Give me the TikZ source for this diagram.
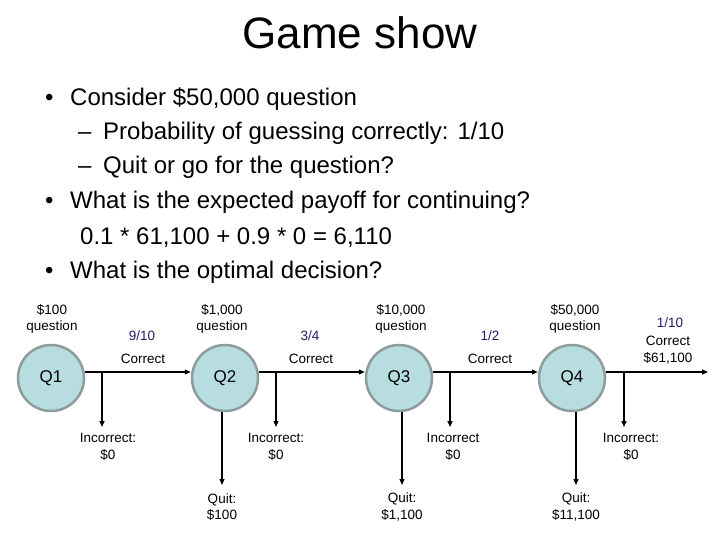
\documentclass[tikz,border=0pt]{standalone}
\usepackage{fontspec}
\setmainfont{Liberation Sans}
\usetikzlibrary{arrows.meta}
\definecolor{qfill}{HTML}{B8DDE0}
\definecolor{qdraw}{HTML}{8E9C9C}
\definecolor{probc}{HTML}{1F1F6E}
\tikzset{
  qnode/.style={circle,fill=qfill,draw=qdraw,line width=2.5pt,minimum size=66pt,inner sep=0pt,font=\fontsize{17}{19}\selectfont},
  lbl/.style={align=center,inner sep=0pt,font=\fontsize{13.5}{16.5}\selectfont},
  prob/.style={lbl,text=probc},
  conn/.style={line width=1.3pt,-{Triangle[length=6pt,width=5pt]}},
  bul/.style={anchor=base west,inner sep=0pt,font=\fontsize{24}{28}\selectfont},
}
\begin{document}
\begin{tikzpicture}[x=1pt,y=-1pt]
\useasboundingbox (0,0) rectangle (720,540);
\node[inner sep=0pt,font=\fontsize{44}{50}\selectfont] (title) at (360,33) {Game show};
% bullets
\node[bul] (b1d) at (45,106) {•};
\node[bul] (b1) at (70,106) {Consider \$50,000 question};
\node[bul] (s1d) at (78,140) {–};
\node[bul] (s1) at (103,140) {Probability of guessing correctly: 1/10};
\node[bul] (s2d) at (78,174) {–};
\node[bul] (s2) at (103,174) {Quit or go for the question?};
\node[bul] (b2d) at (45,208) {•};
\node[bul] (b2) at (70,208) {What is the expected payoff for continuing?};
\node[bul] (b3) at (80,244) {0.1 * 61,100 + 0.9 * 0 = 6,110};
\node[bul] (b4d) at (45,278) {•};
\node[bul] (b4) at (70,278) {What is the optimal decision?};
% question nodes
\node[qnode] (q1) at (51,378) {Q1};
\node[qnode] (q2) at (225,378) {Q2};
\node[qnode] (q3) at (399,378) {Q3};
\node[qnode] (q4) at (572,378) {Q4};
% labels above
\node[lbl] (l1) at (52,319) {\$100\\question};
\node[lbl] (l2) at (222,319) {\$1,000\\question};
\node[lbl] (l3) at (401,319) {\$10,000\\question};
\node[lbl] (l4) at (575,319) {\$50,000\\question};
\node[prob] (p1) at (142,336) {9/10};
\node[lbl] (c1) at (143,359) {Correct};
\node[prob] (p2) at (310,336) {3/4};
\node[lbl] (c2) at (311,359) {Correct};
\node[prob] (p3) at (490,336) {1/2};
\node[lbl] (c3) at (490,359) {Correct};
\node[prob] (p4) at (670,323) {1/10};
\node[lbl] (c4) at (668,350) {Correct\\\$61,100};
% endpoints
\coordinate (e4) at (708,372);
\coordinate (j1) at (102,372);
\coordinate (j2) at (276,372);
\coordinate (j3) at (450,372);
\coordinate (j4) at (624,372);
\coordinate (k1) at (102,427);
\coordinate (k2) at (276,427);
\coordinate (k3) at (450,427);
\coordinate (k4) at (624,427);
\coordinate (t2) at (222,485);
\coordinate (t3) at (402,485);
\coordinate (t4) at (576,485);
% incorrect labels
\node[lbl] (i1) at (108,447) {Incorrect:\\\$0};
\node[lbl] (i2) at (276,447) {Incorrect:\\\$0};
\node[lbl] (i3) at (453,447) {Incorrect\\\$0};
\node[lbl] (i4) at (631,447) {Incorrect:\\\$0};
% quit labels
\node[lbl] (u2) at (222,507) {Quit:\\\$100};
\node[lbl] (u3) at (402,507) {Quit:\\\$1,100};
\node[lbl] (u4) at (576,507) {Quit:\\\$11,100};
% connectors
\draw[conn] (q1.east |- j1) -- (q2.west |- j1);
\draw[conn] (q2.east |- j2) -- (q3.west |- j2);
\draw[conn] (q3.east |- j3) -- (q4.west |- j3);
\draw[conn] (q4.east |- j4) -- (e4);
\draw[conn] (j1) -- (k1);
\draw[conn] (j2) -- (k2);
\draw[conn] (j3) -- (k3);
\draw[conn] (j4) -- (k4);
\draw[conn] (t2 |- q2.south) -- (t2);
\draw[conn] (t3 |- q3.south) -- (t3);
\draw[conn] (t4 |- q4.south) -- (t4);
\end{tikzpicture}
\end{document}
